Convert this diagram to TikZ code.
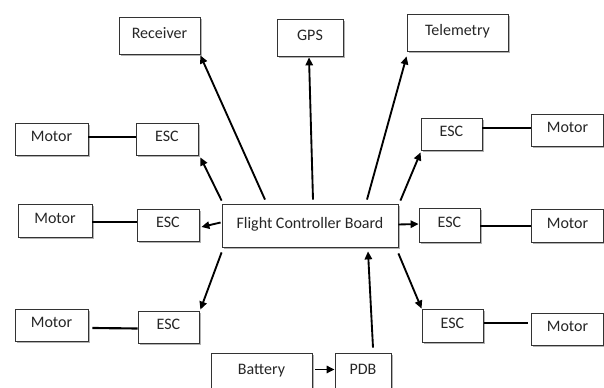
\documentclass[tikz,border=0pt]{standalone}
\usepackage{fontspec}
\setmainfont{Carlito}
\usepackage{tikz}
\usetikzlibrary{arrows.meta, calc, shadows}

\begin{document}
\begin{tikzpicture}[x=0.75pt, y=-0.75pt,
  box/.style={draw=black!80, line width=0.6pt, fill=white, inner sep=0pt,
    font=\fontsize{12}{14}\selectfont, text=black!85, text height=8pt, text depth=4pt,
    drop shadow={shadow xshift=1.2pt, shadow yshift=-1.2pt, fill=black, opacity=0.3}},
  wh/.style 2 args={minimum width=#1*0.75pt, minimum height=#2*0.75pt},
  link/.style={line width=1.6pt},
  feed/.style={line width=1.4pt, -{Triangle[length=6pt,width=5.5pt]}}]
\useasboundingbox (0,0) rectangle (604,388);
\clip (0,0) rectangle (604,388);
\node[box, wh={81}{37}] (rec) at (159.5,35.5) {Receiver};
\node[box, wh={66}{37}] (gps) at (310,37.5) {GPS};
\node[box, wh={101}{37}] (tel) at (457.5,32.5) {Telemetry};
\node[box, wh={176}{43}] (fcb) at (310,225.5) {Flight Controller Board};
\node[box, wh={73}{32}] (motA) at (51.5,139) {Motor};
\node[box, wh={62}{32}] (escA) at (167,139) {ESC};
\node[box, wh={61}{32}] (escB) at (451.5,134) {ESC};
\node[box, wh={72}{32}] (motB) at (567.5,130) {Motor};
\node[box, wh={74}{33}] (motC) at (55,220.5) {Motor};
\node[box, wh={62}{32}] (escC) at (168,225) {ESC};
\node[box, wh={61}{34}] (escD) at (449.5,225) {ESC};
\node[box, wh={72}{33}] (motD) at (567.5,225.5) {Motor};
\node[box, wh={73}{32}] (motE) at (51.5,325) {Motor};
\node[box, wh={61}{32}] (escE) at (168.5,327) {ESC};
\node[box, wh={61}{33}] (escF) at (452.5,325.5) {ESC};
\node[box, wh={72}{32}] (motF) at (567.5,329) {Motor};
\node[box, wh={101}{37}] (bat) at (261.5,371.5) {Battery};
\node[box, wh={56}{37}] (pdb) at (363,371.5) {PDB};

\draw[feed] ($(fcb.north)+(-45,-4)$) -- ($(rec.south east)+(0,1)$);
\draw[feed] ($(fcb.north)+(3,-4)$) -- ($(gps.south)+(-1,1)$);
\draw[feed] ($(fcb.north)+(57,-4)$) -- ($(tel.south west)+(0,5)$);
\draw[feed] ($(fcb.north west)+(0,-3)$) -- ($(escA.south east)+(2,2)$);
\draw[feed] ($(fcb.north east)+(2,-3)$) -- ($(escB.south west)+(0,2)$);
\draw[feed] ($(fcb.west)+(-1,-3)$) -- ($(escC.east)+(2,2)$);
\draw[feed] ($(fcb.east)+(0,-1)$) -- ($(escD.west)+(0,-1)$);
\draw[feed] ($(fcb.south west)+(0,5)$) -- ($(escE.north east)+(1,-1)$);
\draw[feed] ($(fcb.south east)+(0,6)$) -- (escF.north west);
\draw[feed] ($(pdb.north)+(10,-5)$) -- ($(fcb.south)+(58,4)$);
\draw[feed] ($(bat.east)+(3,-2)$) -- ($(pdb.west)+(0,-2)$);

\draw[link] ($(motA.east)+(0,-2)$) -- ($(escA.west)+(0,-2)$);
\draw[link] ($(escB.east)+(0,-6)$) -- ($(motB.west)+(0,-2)$);
\draw[link] ($(motC.east)+(0,1.5)$) -- ($(escC.west)+(0,-3)$);
\draw[link] ($(escD.east)+(0,1)$) -- ($(motD.west)+(0,0.5)$);
\draw[link] ($(motE.east)+(4,3)$) -- ($(escE.west)+(0,1.5)$);
\draw[link] ($(escF.east)+(1,-2.5)$) -- ($(motF.west)+(-3,-6)$);
\end{tikzpicture}
\end{document}
